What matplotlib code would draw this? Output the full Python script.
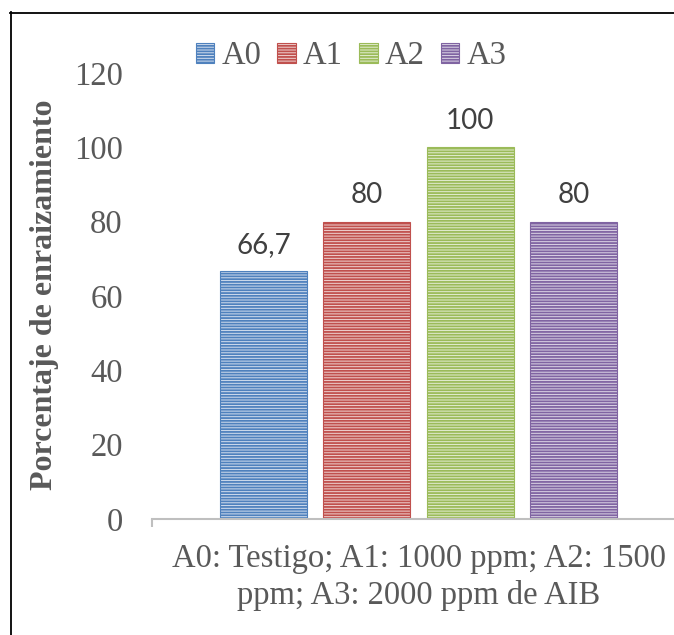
import matplotlib
matplotlib.use("Agg")
import matplotlib.pyplot as plt
from matplotlib.lines import Line2D
from matplotlib.patches import Patch

# rooting percentage per IBA treatment
treatments = ["A0", "A1", "A2", "A3"]
rooting = [66.7, 80, 100, 80]
value_labels = ["66,7", "80", "100", "80"]
yticks = [0, 20, 40, 60, 80, 100, 120]

COL = ["#4F81BD", "#C0504D", "#9BBB59", "#8064A2"]
FACE = ["#D3DEEE", "#EFD3D2", "#E4EDD3", "#DDD6E6"]
GREY = "#595959"

plt.rcParams["hatch.linewidth"] = 1.3

fig = plt.figure(figsize=(6.74, 6.35), dpi=100)
ax = fig.add_axes([152 / 674, 116 / 635, 533 / 674, 446 / 635])

step, width = 0.194, 0.163
offsets = [(i - 1.5) * step for i in range(len(treatments))]
for i, (t, v) in enumerate(zip(treatments, rooting)):
    b = ax.bar(0.5 + offsets[i], v, width=width, color=FACE[i], edgecolor=COL[i],
               hatch="------", linewidth=0.8, label=t)
    ax.bar_label(b, labels=[value_labels[i]], padding=9.5, fontsize=20,
                 family="Lato", color="#404040")

ax.set_xlim(0, 1)
ax.set_ylim(0, 120)
ax.set_yticks(yticks)
ax.set_yticklabels([str(y) for y in yticks], family="Liberation Serif", fontsize=23.5, color=GREY)
ax.tick_params(axis="y", length=0, pad=21)
ax.set_xticks([0, 1])
ax.set_xticklabels([])
ax.tick_params(axis="x", length=6, width=1.5, color="#BFBFBF", direction="out")

for s in ("left", "right", "top"):
    ax.spines[s].set_visible(False)
ax.spines["bottom"].set_color("#BFBFBF")
ax.spines["bottom"].set_linewidth(1.5)

ax.set_xlabel("A0: Testigo; A1: 1000 ppm; A2: 1500\nppm; A3: 2000 ppm de AIB",
              family="Liberation Serif", fontsize=23.5, color=GREY, labelpad=8,
              linespacing=1.25)
fig.text(45 / 674, 1 - 295 / 635, "Porcentaje de enraizamiento", rotation=90,
         ha="center", va="center", family="Liberation Serif", fontweight="bold",
         fontsize=23, color=GREY)

handles = [Patch(facecolor=FACE[i], edgecolor=COL[i], hatch="------", linewidth=0.8)
           for i in range(len(treatments))]
leg = fig.legend(handles, treatments, loc="center", bbox_to_anchor=(351 / 674, 1 - 56 / 635),
                 ncol=4, frameon=False, handlelength=0.56, handleheight=0.56,
                 handletextpad=0.22, columnspacing=0.5,
                 prop={"family": "Liberation Serif", "size": 23.5})
for txt in leg.get_texts():
    txt.set_color(GREY)

# outer frame, only left and top edges fall inside the image
fig.add_artist(Line2D([10.5 / 674, 10.5 / 674], [0, 1 - 12 / 635], color="black", lw=1.3,
                      transform=fig.transFigure))
fig.add_artist(Line2D([10 / 674, 1], [1 - 12.5 / 635, 1 - 12.5 / 635], color="black", lw=1.3,
                      transform=fig.transFigure))

fig.savefig("out.png", dpi=100)
